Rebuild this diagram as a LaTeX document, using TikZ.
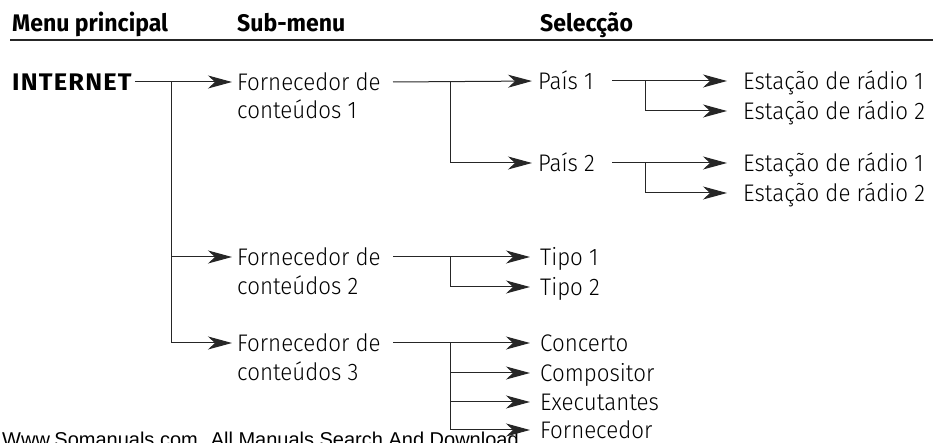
\documentclass[tikz,border=0pt]{standalone}
\usepackage{fontspec}
\setmainfont{Fira Sans}
\newfontfamily\lightfont{Fira Sans Light}[FakeStretch=0.93]
\newfontfamily\headfont{Fira Sans Bold}[FakeStretch=0.96]
\newfontfamily\rootfont{Fira Sans Bold}[FakeStretch=1.06,LetterSpace=5]
\newfontfamily\markfont{Liberation Sans}
\usetikzlibrary{arrows.meta,positioning}

\begin{document}
\begin{tikzpicture}[x=1pt,y=-1pt,
    head/.style={anchor=base west,inner sep=0pt,font=\headfont\fontsize{24}{28}\selectfont},
    item/.style={anchor=west,inner sep=0pt,text height=17pt,text depth=0pt,font=\lightfont\fontsize{24}{28}\selectfont},
    root/.style={item,font=\rootfont\fontsize{24}{28}\selectfont},
    link/.style={line width=1pt,black!85},
    arr/.style={link,-{Stealth[length=24pt,width=13pt,inset=7pt]}}]
    \useasboundingbox (0,0) rectangle (938,443);

    % Column headers
    \node[head] (hmain) at (12,32) {Menu principal};
    \node[head] (hsub) at (237,32) {Sub-menu};
    \node[head] (hsel) at (540,32) {Selecção};
    \draw[line width=1.4pt,black!85] (10,40) -- (933,40);

    % Main menu and sub-menus
    \node[root] (inet) at (12,82) {INTERNET};
    \node[item] (fc1) at (237,82) {Fornecedor de};
    \node[item] (fc1b) at (237,110) {conteúdos 1};
    \node[item] (fc2) at (237,257) {Fornecedor de};
    \node[item] (fc2b) at (237,286) {conteúdos 2};
    \node[item] (fc3) at (237,343) {Fornecedor de};
    \node[item] (fc3b) at (237,372) {conteúdos 3};

    % Selections
    \node[item] (p1) at (538,81) {País 1};
    \node[item] (p2) at (538,163) {País 2};
    \node[item] (e11) at (743,81) {Estação de rádio 1};
    \node[item] (e12) at (743,111) {Estação de rádio 2};
    \node[item] (e21) at (743,163) {Estação de rádio 1};
    \node[item] (e22) at (743,193) {Estação de rádio 2};
    \node[item] (t1) at (540,257) {Tipo 1};
    \node[item] (t2) at (540,287) {Tipo 2};
    \node[item] (c1) at (540,343) {Concerto};
    \node[item] (c2) at (540,373) {Compositor};
    \node[item] (c3) at (540,402) {Executantes};
    \node[item] (c4) at (540,430) {Fornecedor};

    \node[anchor=base west,inner sep=0pt,font=\markfont\fontsize{20}{24}\selectfont] (mark) at (2,447) {Www.Somanuals.com. All Manuals Search And Download.};

    % Branch points
    \coordinate (j0) at (171,82);
    \coordinate (s1) at (393,82);
    \coordinate (s2) at (393,257);
    \coordinate (s3) at (393,343);
    \coordinate (b1) at (450,82);
    \coordinate (b2) at (450,257);
    \coordinate (b3) at (450,343);
    \coordinate (q1) at (612,81);
    \coordinate (q2) at (612,163);
    \coordinate (r1) at (645,81);
    \coordinate (r2) at (645,163);

    % Arrows
    \draw[arr,shorten <=3pt,shorten >=5pt] (inet.east) -- (fc1.west);
    \foreach \i in {2,3} {
        \draw[arr,shorten >=5pt] (j0) |- (fc\i.west);
    }
    \draw[arr,shorten >=6pt] (s1) -- (p1.west);
    \draw[arr,shorten >=6pt] (b1) |- (p2.west);
    \draw[arr,shorten >=16pt] (q1) -- (e11.west);
    \draw[arr,shorten >=16pt] (r1) |- (e12.west);
    \draw[arr,shorten >=16pt] (q2) -- (e21.west);
    \draw[arr,shorten >=16pt] (r2) |- (e22.west);
    \draw[arr,shorten >=10pt] (s2) -- (t1.west);
    \draw[arr,shorten >=10pt] (b2) |- (t2.west);
    \draw[arr,shorten >=10pt] (s3) -- (c1.west);
    \foreach \n in {c2,c3,c4} {
        \draw[arr,shorten >=10pt] (b3) |- (\n.west);
    }
\end{tikzpicture}
\end{document}
